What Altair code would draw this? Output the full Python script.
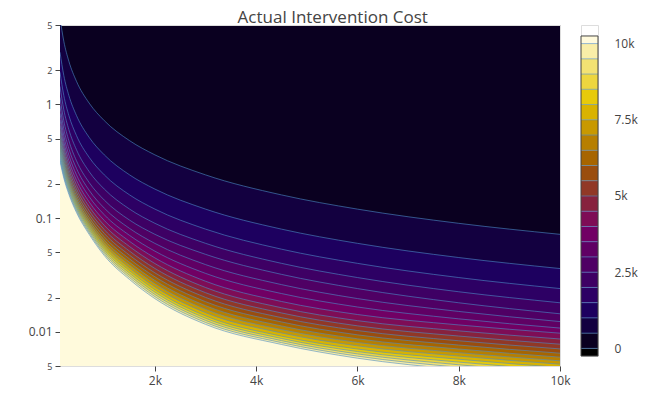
import altair as alt
import pandas as pd

x_vals = [125, 200, 300, 450, 700, 1000, 1500, 2000, 3000, 4500, 6000, 8000, 10000]

# y position of each contour level at x_vals
y_500 = [5.76, 3.6, 2.4, 1.6, 1.029, 0.72, 0.48, 0.36, 0.24, 0.16, 0.12, 0.09, 0.072]
y_1000 = [2.88, 1.8, 1.2, 0.8, 0.514, 0.36, 0.24, 0.18, 0.12, 0.08, 0.06, 0.045, 0.036]
y_1500 = [1.92, 1.2, 0.8, 0.533, 0.343, 0.24, 0.16, 0.12, 0.08, 0.0533, 0.04, 0.03, 0.024]
y_2000 = [1.44, 0.9, 0.6, 0.4, 0.257, 0.18, 0.12, 0.09, 0.06, 0.04, 0.03, 0.0225, 0.018]
y_2500 = [1.152, 0.72, 0.48, 0.32, 0.206, 0.144, 0.096, 0.072, 0.048, 0.032, 0.024, 0.018, 0.0144]
y_3000 = [0.966, 0.61, 0.409, 0.274, 0.176, 0.1224, 0.0811, 0.0599, 0.039, 0.026, 0.0196, 0.0151, 0.0123]
y_3500 = [0.834, 0.531, 0.359, 0.2408, 0.1547, 0.107, 0.0704, 0.0512, 0.03264, 0.02169, 0.01652, 0.013, 0.01078]
y_4000 = [0.734, 0.4725, 0.321, 0.216, 0.1389, 0.0954, 0.0624, 0.04466, 0.02784, 0.01847, 0.01419, 0.01149, 0.00972]
y_4500 = [0.657, 0.4267, 0.2916, 0.1968, 0.1265, 0.0864, 0.05618, 0.03984, 0.02453, 0.01627, 0.01253, 0.01019, 0.00864]
y_5000 = [0.595, 0.39, 0.268, 0.1813, 0.1166, 0.0792, 0.0512, 0.03608, 0.02208, 0.01464, 0.01128, 0.009173, 0.007776]
y_5500 = [0.5445, 0.36, 0.2487, 0.1687, 0.1085, 0.07331, 0.04713, 0.03301, 0.02007, 0.01331, 0.010255, 0.008339, 0.007069]
y_6000 = [0.5024, 0.335, 0.2327, 0.1582, 0.1017, 0.0684, 0.04373, 0.03046, 0.0184, 0.0122, 0.0094, 0.007644, 0.00648]
y_6500 = [0.4667, 0.3138, 0.2191, 0.1493, 0.096, 0.06425, 0.04086, 0.02829, 0.01698, 0.01126, 0.008677, 0.007056, 0.005982]
y_7000 = [0.4361, 0.2957, 0.2074, 0.1417, 0.0911, 0.06069, 0.0384, 0.02644, 0.01577, 0.010457, 0.008057, 0.006552, 0.005554]
y_7500 = [0.4096, 0.28, 0.1973, 0.1351, 0.08686, 0.0576, 0.03627, 0.02483, 0.01472, 0.00976, 0.00752, 0.006115, 0.005184]
y_8000 = [0.3864, 0.2662, 0.1885, 0.1293, 0.08314, 0.0549, 0.0344, 0.02343, 0.0138, 0.00915, 0.00705, 0.005733, 0.00486]
y_8500 = [0.3659, 0.2541, 0.1807, 0.1242, 0.07987, 0.05252, 0.03275, 0.02229, 0.01316, 0.008732, 0.006699, 0.005412, 0.004574]
y_9000 = [0.3477, 0.2433, 0.1738, 0.1197, 0.07695, 0.0504, 0.03129, 0.02128, 0.01259, 0.00836, 0.006387, 0.005127, 0.00432]
y_9500 = [0.3314, 0.2337, 0.1676, 0.1156, 0.07434, 0.0485, 0.02998, 0.02037, 0.01208, 0.008027, 0.006107, 0.004872, 0.004093]
y_10000 = [0.3168, 0.225, 0.162, 0.112, 0.072, 0.0468, 0.0288, 0.01956, 0.01162, 0.00773, 0.005856, 0.004643, 0.003888]

levels = [500, 1000, 1500, 2000, 2500, 3000, 3500, 4000, 4500, 5000,
          5500, 6000, 6500, 7000, 7500, 8000, 8500, 9000, 9500, 10000]
contour_y = [y_500, y_1000, y_1500, y_2000, y_2500, y_3000, y_3500, y_4000, y_4500, y_5000,
             y_5500, y_6000, y_6500, y_7000, y_7500, y_8000, y_8500, y_9000, y_9500, y_10000]

# one colour per band: below 0, 0-500, ..., 9500-10k, above 10k
band_colors = ["#000000", "#0a0020", "#130040", "#1d005f", "#2d0064", "#3e0064",
               "#4f0064", "#600064", "#710064", "#7e0d56", "#87223e", "#913826",
               "#9a4d0e", "#a76500", "#b77f00", "#c89900", "#d9b300", "#e7ca0a",
               "#edd63f", "#f3e273", "#f9eea8", "#fffadc"]
band_edges = [-250] + [0] + levels + [10250]
cbar_ticks = [0, 2500, 5000, 7500, 10000]

x_ticks = [2000, 4000, 6000, 8000, 10000]
y_ticks = [0.005, 0.01, 0.02, 0.05, 0.1, 0.2, 0.5, 1, 2, 5]

line_color = "#4c8cc8"
text_color = "#444"

x_scale = alt.Scale(domain=[125, 10000], nice=False, zero=False)
y_scale = alt.Scale(type="log", domain=[0.005, 5], nice=False)

x_axis = alt.Axis(values=x_ticks, format="~s", grid=False, domain=False,
                  tickSize=5, tickColor=text_color, labelColor=text_color,
                  labelFontSize=12, labelPadding=4, labelFlush=False, title=None)
major = "datum.value == 0.01 || datum.value == 0.1 || datum.value == 1"
y_axis = alt.Axis(values=y_ticks, format="~g", grid=False, domain=False,
                  labelExpr=f"{major} ? datum.label : slice(datum.label, -1)",
                  labelFontSize=alt.condition(major, alt.value(12), alt.value(9)),
                  tickSize=5, tickColor=text_color, labelColor=text_color,
                  labelPadding=3, labelFlush=False, title=None)

# filled bands: each level fills from its line down, higher levels on top
layers = []
for i, ys in enumerate(contour_y):
    df = pd.DataFrame({"x": x_vals, "y": ys})
    layers.append(
        alt.Chart(df).mark_area(color=band_colors[i + 2], clip=True, interpolate="monotone").encode(
            x=alt.X("x:Q", scale=x_scale, axis=x_axis),
            y=alt.Y("y:Q", scale=y_scale, axis=y_axis),
            y2=alt.Y2Datum(0.005),
        )
    )
# contour lines on top
for lev, ys in zip(levels, contour_y):
    df = pd.DataFrame({"x": x_vals, "y": ys})
    layers.append(
        alt.Chart(df).mark_line(color=line_color, strokeWidth=1, opacity=0.6,
                                clip=True, interpolate="monotone").encode(
            x=alt.X("x:Q", scale=x_scale, axis=x_axis),
            y=alt.Y("y:Q", scale=y_scale, axis=y_axis),
        )
    )

main = alt.layer(*layers).properties(
    width=500, height=341,
    view=alt.ViewBackground(fill=band_colors[1]),
)

# colour bar
cb_df = pd.DataFrame({
    "lo": band_edges[:-1],
    "hi": band_edges[1:],
    "col": band_colors,
})
cb_scale = alt.Scale(domain=[-250, 10610], nice=False, zero=False)
cb_axis = alt.Axis(orient="right", values=cbar_ticks, ticks=False,
                   labelExpr="datum.value == 0 ? '0' : format(datum.value / 1000, '~g') + 'k'",
                   domain=False, grid=False, labelColor=text_color,
                   labelFontSize=12, labelPadding=16, title=None)
cb_bands = alt.Chart(cb_df).mark_rect().encode(
    y=alt.Y("lo:Q", scale=cb_scale, axis=cb_axis),
    y2="hi:Q",
    color=alt.Color("col:N", scale=None),
)
cb_lines = alt.Chart(pd.DataFrame({"lo": [0] + levels})).mark_rule(
    color=line_color, strokeWidth=1, opacity=0.6
).encode(y=alt.Y("lo:Q", scale=cb_scale, axis=cb_axis))
cb_frame = alt.Chart(pd.DataFrame({"lo": [-250], "hi": [10250]})).mark_rect(
    fillOpacity=0, stroke=text_color, strokeWidth=1
).encode(y=alt.Y("lo:Q", scale=cb_scale, axis=cb_axis), y2="hi:Q")
cbar = alt.layer(cb_bands, cb_lines, cb_frame).properties(width=17, height=331)

chart = alt.hconcat(main, cbar, spacing=21, bounds="flush").properties(
    title=alt.TitleParams("Actual Intervention Cost", fontSize=17, font="Open Sans",
                          color=text_color, fontWeight="normal", anchor="middle", offset=-6),
    padding={"left": 19, "top": 0, "right": 0, "bottom": 0},
).configure_view(strokeWidth=0).configure(font="Open Sans")

chart.save("out.html", embed_options={"renderer": "svg", "actions": False})
